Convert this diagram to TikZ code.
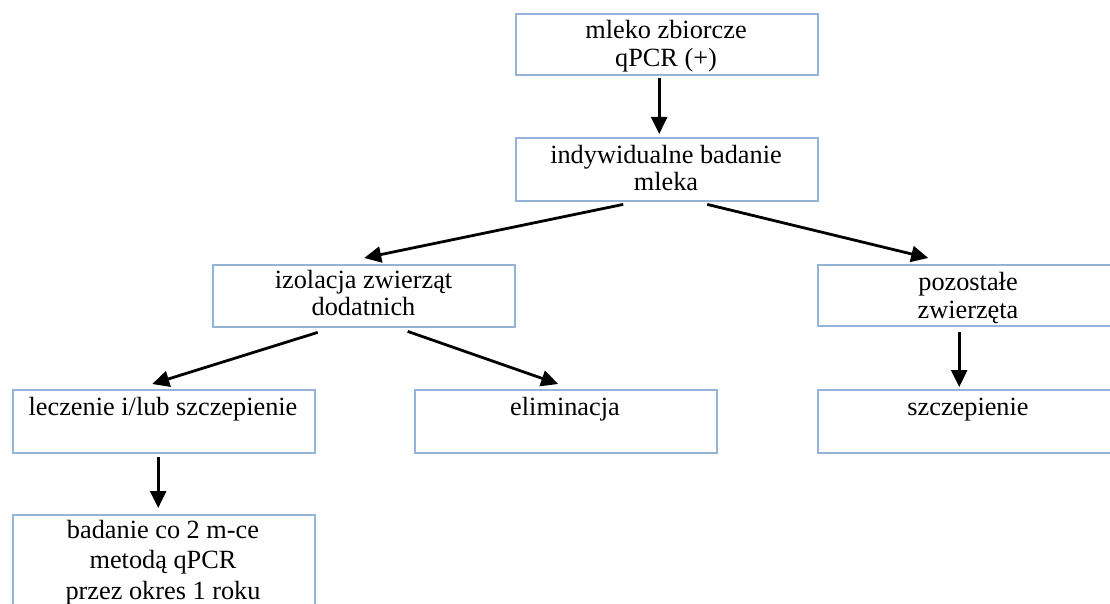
\documentclass[tikz,border=0pt]{standalone}
\usepackage{fontspec}
\setmainfont{Liberation Serif}
\usetikzlibrary{arrows.meta}
\definecolor{boxblue}{RGB}{149,179,215}
\tikzset{
  box/.style={draw=boxblue, line width=2.4pt, rectangle, inner sep=0pt, minimum width=302pt, anchor=north west},
  txt/.style={inner sep=0pt, align=center, anchor=north, text=black},
  conn/.style={line width=2.8pt, -{Triangle[length=17pt,width=16pt]}}
}
\begin{document}
\begin{tikzpicture}[x=1pt,y=-1pt]
\useasboundingbox (0,0) rectangle (1110,604);
\clip (0,0) rectangle (1110,604);
\fill[white] (0,0) rectangle (1110,604);
% boxes
\node[box, minimum height=61pt] (b1) at (515,13) {};
\node[box, minimum height=63pt] (b2) at (515,137) {};
\node[box, minimum height=62pt] (b3) at (212,264) {};
\node[box, minimum height=61pt] (b4) at (817,264) {};
\node[box, minimum height=63pt] (b5) at (12,389) {};
\node[box, minimum height=63pt] (b6) at (414,389) {};
\node[box, minimum height=63pt] (b7) at (817,389) {};
\node[box, minimum height=110pt] (b8) at (12,514) {};
% texts (top = first baseline - 0.7*baselineskip)
\node[txt, font=\fontsize{26.3}{28}\selectfont] (t1) at (666,18.6) {\strut mleko zbiorcze\\qPCR (+)};
\node[txt, font=\fontsize{26.3}{27}\selectfont] (t2) at (666,144.1) {\strut indywidualne badanie\\mleka};
\node[txt, font=\fontsize{26.3}{27}\selectfont] (t3) at (363.5,269) {\strut izolacja zwierząt\\dodatnich};
\node[txt, font=\fontsize{26.3}{28.5}\selectfont] (t4) at (968,270) {\strut pozostałe\\zwierzęta};
\node[txt, font=\fontsize{26.3}{30}\selectfont] (t5) at (163,394) {\strut leczenie i/lub szczepienie};
\node[txt, font=\fontsize{26.3}{30}\selectfont] (t6) at (565,394) {\strut eliminacja};
\node[txt, font=\fontsize{26.3}{30}\selectfont] (t7) at (968,394) {\strut szczepienie};
\node[txt, font=\fontsize{26.3}{30.5}\selectfont] (t8) at (163,516.5) {\strut badanie co 2 m-ce\\metodą qPCR\\przez okres 1 roku};
% connectors
\draw[conn] ([xshift=-8pt,yshift=-2pt]b1.south) -- ([xshift=-8pt,yshift=3pt]b2.north);
\draw[conn] ([xshift=-44pt,yshift=-2pt]b2.south) -- ([xshift=0pt,yshift=6pt]b3.north);
\draw[conn] ([xshift=40pt,yshift=-2pt]b2.south) -- ([xshift=-41pt,yshift=6pt]b4.north);
\draw[conn] ([xshift=-46.5pt,yshift=-4pt]b3.south) -- ([xshift=-12pt,yshift=5pt]b5.north);
\draw[conn] ([xshift=43.5pt,yshift=-3pt]b3.south) -- ([xshift=-8pt,yshift=5pt]b6.north);
\draw[conn] ([xshift=-10pt,yshift=-5pt]b4.south) -- ([xshift=-10pt,yshift=2pt]b7.north);
\draw[conn] ([xshift=-6pt,yshift=-3pt]b5.south) -- ([xshift=-6pt,yshift=6pt]b8.north);
\end{tikzpicture}
\end{document}
